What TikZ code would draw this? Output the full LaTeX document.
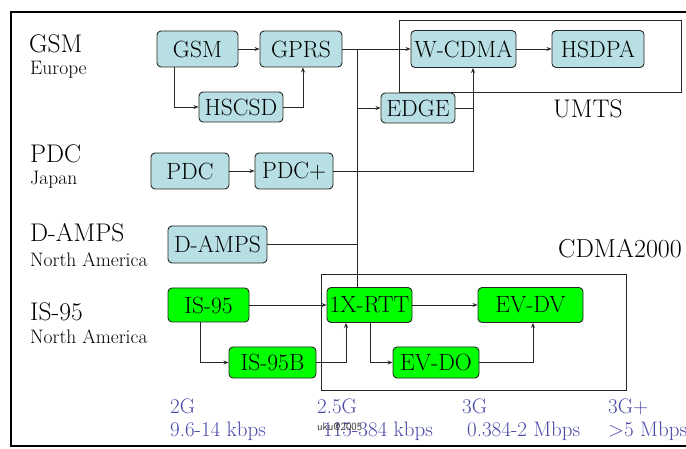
\documentclass[tikz,border=0pt]{standalone}
\usepackage{fontspec}
\usetikzlibrary{arrows.meta}
\definecolor{nodeblue}{RGB}{184,224,228}
\definecolor{nodegreen}{RGB}{0,255,0}
\definecolor{labblue}{RGB}{72,72,168}
\tikzset{
 sys/.style={draw=black!85, line width=0.9pt, rounded corners=4pt, inner sep=0pt, font=\fontsize{23.5}{25}\selectfont},
 bluebox/.style={sys, fill=nodeblue},
 greenbox/.style={sys, fill=nodegreen},
 conn/.style={line width=0.9pt, draw=black!85},
 arr/.style={conn, -{Stealth[length=5pt,width=4pt]}},
 grp/.style={draw=black!85, line width=0.9pt, inner sep=0pt},
 biglab/.style={font=\fontsize{25.5}{27}\selectfont, anchor=base west, inner sep=0pt},
 smalllab/.style={font=\fontsize{19.5}{21}\selectfont, anchor=base west, inner sep=0pt},
 gen/.style={font=\fontsize{21}{23}\selectfont, text=labblue, anchor=base west, inner sep=0pt},
}
\begin{document}
\begin{tikzpicture}[x=1pt,y=-1pt]
\useasboundingbox (0,0) rectangle (686,449);
\draw[line width=2pt] (690,12) -- (11,12) -- (11,446) -- (690,446);

% group boxes
\node[grp, minimum width=282pt, minimum height=72pt] (umts) at (540,56) {};
\node[grp, minimum width=305pt, minimum height=116pt] (cdma) at (473.5,332) {};
\node[biglab] (umtslab) at (553,118) {UMTS};
\node[biglab, font=\fontsize{26}{28}\selectfont] (cdmalab) at (558,258) {CDMA2000};

% left labels
\node[biglab] (lgsm) at (29,53) {GSM};
\node[smalllab] (leu) at (30,75) {Europe};
\node[biglab] (lpdc) at (30,163) {PDC};
\node[smalllab] (ljp) at (30,185) {Japan};
\node[biglab] (ldamps) at (30,242) {D-AMPS};
\node[smalllab] (lna1) at (30,267) {North America};
\node[biglab] (lis) at (30,320) {IS-95};
\node[smalllab] (lna2) at (30,344) {North America};

% nodes
\node[bluebox, minimum width=81pt, minimum height=36pt] (gsm) at (197.5,49) {GSM};
\node[bluebox, minimum width=82pt, minimum height=36pt] (gprs) at (301,49) {GPRS};
\node[bluebox, minimum width=84pt, minimum height=30pt] (hscsd) at (241,107) {HSCSD};
\node[bluebox, minimum width=105pt, minimum height=37pt] (wcdma) at (463.5,49) {W-CDMA};
\node[bluebox, minimum width=92pt, minimum height=37pt] (hsdpa) at (598,49) {HSDPA};
\node[bluebox, minimum width=74pt, minimum height=30pt] (edge) at (418,108) {EDGE};
\node[bluebox, minimum width=78pt, minimum height=36pt] (pdc) at (190,171) {PDC};
\node[bluebox, minimum width=78pt, minimum height=36pt] (pdcp) at (294,171) {PDC+};
\node[bluebox, minimum width=99pt, minimum height=37pt] (damps) at (217.5,244.5) {D-AMPS};
\node[greenbox, minimum width=81pt, minimum height=34pt] (is95) at (208.5,305) {IS-95};
\node[greenbox, minimum width=87pt, minimum height=31pt] (is95b) at (272.5,362.5) {IS-95B};
\node[greenbox, minimum width=85pt, minimum height=35pt] (x1) at (369.5,305) {1X-RTT};
\node[greenbox, minimum width=105pt, minimum height=35pt] (evdv) at (530.5,305) {EV-DV};
\node[greenbox, minimum width=86pt, minimum height=31pt] (evdo) at (436,362.5) {EV-DO};

% connectors
\coordinate (t1) at (357,49);
\coordinate (jx) at (473,171);
\draw[arr] (gsm.east) -- (gprs.west);
\draw[arr] ([xshift=-23.5pt]gsm.south) |- (hscsd.west);
\draw[arr] (hscsd.east) -| ([xshift=2pt]gprs.south);
\draw[arr] (gprs.east) -- (wcdma.west);
\draw[arr] (wcdma.east) -- (hsdpa.west);
\draw[conn] (t1) -- (t1 |- x1.north);
\draw[arr] (t1 |- edge.west) -- (edge.west);
\draw[conn] (edge.east) -- (edge.east -| jx);
\draw[arr] (pdc.east) -- (pdcp.west);
\draw[arr] (pdcp.east) -- (jx) -- (jx |- wcdma.south);
\draw[conn] (damps.east) -- (damps.east -| t1);
\draw[arr] (is95.east) -- (x1.west);
\draw[arr] ([xshift=-8.5pt]is95.south) |- (is95b.west);
\draw[arr] (is95b.east) -| ([xshift=-23.5pt]x1.south);
\draw[arr] (x1.east) -- (evdv.west);
\draw[arr] ([xshift=0.5pt]x1.south) |- (evdo.west);
\draw[arr] (evdo.east) -| ([xshift=2.5pt]evdv.south);

% generation labels
\node[gen] (g2) at (170,413) {2G};
\node[gen] (r2) at (170,436) {9.6-14 kbps};
\node[gen] (g25) at (317,413) {2.5G};
\node[gen] (r25) at (323,436) {115-384 kbps};
\node[gen] (g3) at (462,413) {3G};
\node[gen] (r3) at (467,436) {0.384-2 Mbps};
\node[gen] (g3p) at (608,413) {3G+};
\node[gen] (r3p) at (608,436) {>5 Mbps};
\node[anchor=base west, inner sep=0pt, font=\sffamily\fontsize{11}{12}\selectfont, text=black!80] (copy) at (317,430) {uku@2005};
\end{tikzpicture}
\end{document}
